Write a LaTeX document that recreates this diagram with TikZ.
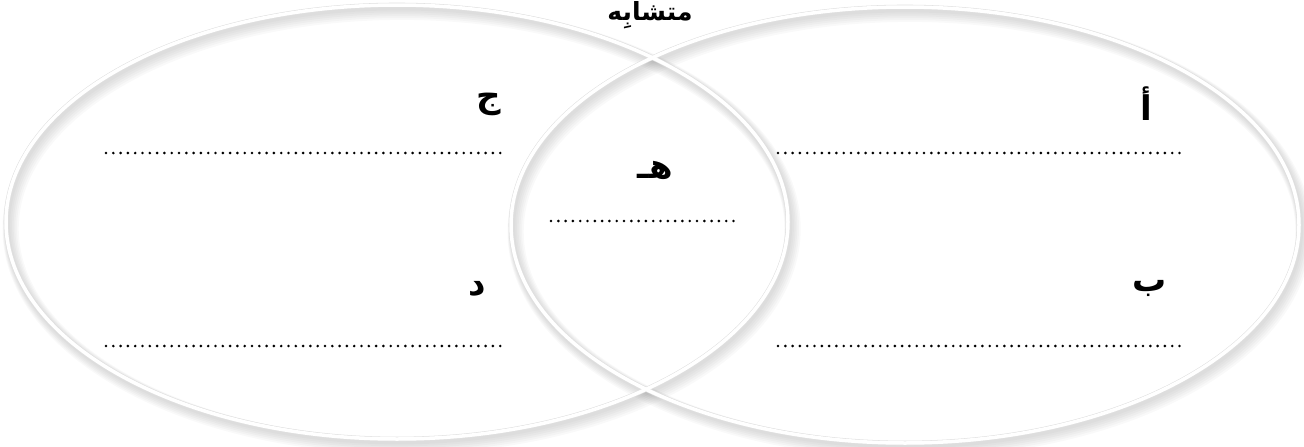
\documentclass[tikz,border=0pt]{standalone}
\usepackage{fontspec}
\newfontfamily\arabicfont[Script=Arabic]{DejaVu Sans}
\TeXXeTstate=1
\begin{document}
\begin{tikzpicture}[x=1pt,y=-1pt,
  ring/.style={line width=3.5pt, draw=white},
  lbl/.style={font=\arabicfont\bfseries\fontsize{34}{40}\selectfont, inner sep=0pt},
  dots/.style={line width=2.9pt, line cap=round, dash pattern=on 0pt off 7.3pt, draw=black}]
\useasboundingbox (0,0) rectangle (1304,447);
% shadows
\foreach \cx/\cy/\rx/\ry in {397/222/391/217, 905/225/394/218}{
  \foreach \k in {1,...,6}{
    \pgfmathsetmacro{\lw}{3+2.2*\k}
    \draw[line width=\lw pt, draw=black, opacity=0.025] (\cx+1+0.6*\k,\cy+2+0.8*\k) ellipse [x radius=\rx, y radius=\ry];
  }
}
\draw[line width=4.6pt, draw=black!12] (397,222) ellipse [x radius=391, y radius=217];
\draw[line width=4.6pt, draw=black!12] (905,225) ellipse [x radius=394, y radius=218];
\draw[ring] (397,222) ellipse [x radius=391, y radius=217];
\draw[ring] (905,225) ellipse [x radius=394, y radius=218];
% title
\node[font=\arabicfont\bfseries\fontsize{25}{30}\selectfont, inner sep=0pt, anchor=north] (title) at (650,1) {\beginR متشابِه\endR};
% labels
\node[lbl] (j) at (489,104) {\beginR ج\endR};
\node[lbl] (a) at (1146,104) {\beginR أ\endR};
\node[lbl] (h) at (655,170) {\beginR هـ\endR};
\node[lbl] (d) at (477,289) {\beginR د\endR};
\node[lbl] (b) at (1150,288) {\beginR ب\endR};
% dotted lines
\coordinate (l1a) at (106,153); \coordinate (l1b) at (507,153);
\coordinate (r1a) at (778,153); \coordinate (r1b) at (1180,153);
\coordinate (m1a) at (551,221); \coordinate (m1b) at (740,221);
\coordinate (l2a) at (106,346); \coordinate (l2b) at (507,346);
\coordinate (r2a) at (778,346); \coordinate (r2b) at (1180,346);
\draw[dots] (l1a) -- (l1b);
\draw[dots] (r1a) -- (r1b);
\draw[dots] (m1a) -- (m1b);
\draw[dots] (l2a) -- (l2b);
\draw[dots] (r2a) -- (r2b);
\end{tikzpicture}
\end{document}
